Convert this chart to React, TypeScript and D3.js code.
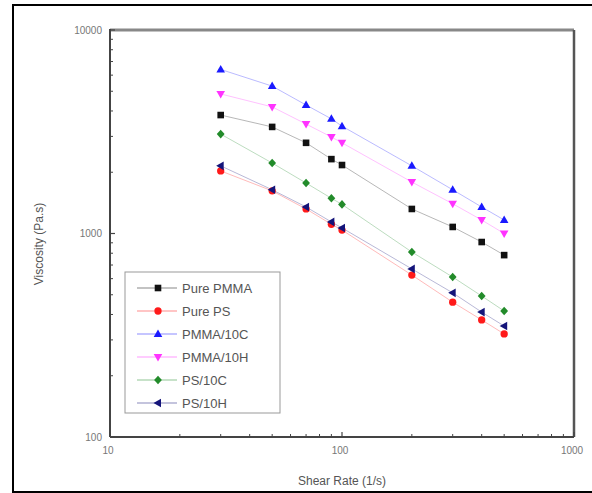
import React from "react";
import * as d3 from "d3";

const shearRates = [30, 50, 70, 90, 100, 200, 300, 400, 500];
const purePMMA = [3820, 3340, 2790, 2320, 2170, 1320, 1077, 908, 783];
const purePS = [2030, 1620, 1320, 1110, 1040, 625, 460, 376, 321];
const pmma10C = [6400, 5300, 4280, 3660, 3370, 2150, 1640, 1350, 1165];
const pmma10H = [4850, 4190, 3450, 2980, 2790, 1790, 1400, 1165, 1000];
const ps10C = [3080, 2220, 1770, 1490, 1390, 811, 611, 493, 416];
const ps10H = [2150, 1640, 1350, 1140, 1065, 670, 511, 411, 351];

const seriesNames = ["Pure PMMA", "Pure PS", "PMMA/10C", "PMMA/10H", "PS/10C", "PS/10H"];
const seriesValues = [purePMMA, purePS, pmma10C, pmma10H, ps10C, ps10H];
const seriesColors = ["#111111", "#ff1a1a", "#1a1aff", "#ff33ff", "#228b2a", "#14147a"];
const seriesShapes = ["square", "circle", "up", "down", "diamond", "left"];

const xTickLabels = [10, 100, 1000];
const yTickLabels = [100, 1000, 10000];

const W = 592, H = 493;
const L = 110, R = 574, T = 30, B = 437;

function markerPath(shape: string): string {
  switch (shape) {
    case "square": return "M-3.3,-3.3H3.3V3.3H-3.3Z";
    case "circle": return d3.symbol(d3.symbolCircle, 42)() as string;
    case "up": return "M0,-4.5L4.3,3H-4.3Z";
    case "down": return "M0,4.5L4.3,-3H-4.3Z";
    case "diamond": return "M0,-4.3L3.9,0L0,4.3L-3.9,0Z";
    case "left": return "M-4.5,0L3,-4.3V4.3Z";
  }
  return "";
}

export default function App() {
  const x = d3.scaleLog().domain([10, 1000]).range([L, R]);
  const y = d3.scaleLog().domain([100, 10000]).range([B, T]);
  const line = d3.line<[number, number]>().x(d => x(d[0])).y(d => y(d[1]));

  const minorX: number[] = [];
  const minorY: number[] = [];
  for (const dec of [10, 100]) for (let k = 2; k <= 9; k++) minorX.push(dec * k);
  for (const dec of [100, 1000]) for (let k = 2; k <= 9; k++) minorY.push(dec * k);

  const axisColor = "#444";
  const textColor = "#777";
  const legX = 125, legY = 272, legW = 155, legH = 141;

  return (
    <svg width={W} height={H} style={{ position: "absolute", left: 0, top: 0, background: "#fff" }}
      fontFamily="'Liberation Sans', Arial, sans-serif">
      <rect x={13} y={5} width={600} height={487} fill="#fff" stroke="#000" strokeWidth={2} />

      {/* lines */}
      {seriesValues.map((vals, i) => (
        <path key={"l" + i}
          d={line(shearRates.map((s, j) => [s, vals[j]] as [number, number])) as string}
          fill="none" stroke={seriesColors[i]} strokeOpacity={0.3} strokeWidth={1} />
      ))}

      {/* frame */}
      <line x1={L} y1={T} x2={R} y2={T} stroke="#888" strokeWidth={3} />
      <line x1={R} y1={T} x2={R} y2={B} stroke="#555" strokeWidth={2.5} />
      <line x1={L} y1={T - 1} x2={L} y2={B} stroke={axisColor} strokeWidth={2} />
      <line x1={L} y1={B} x2={R} y2={B} stroke={axisColor} strokeWidth={2} />

      {/* ticks */}
      {yTickLabels.map(v => (
        <g key={"yt" + v}>
          <line x1={L} x2={L + 5} y1={y(v)} y2={y(v)} stroke={axisColor} strokeWidth={1.2} />
          <text x={L - 8} y={y(v) + 3.5} textAnchor="end" fontSize={10} fill={textColor}>{v}</text>
        </g>
      ))}
      {minorY.map(v => (
        <line key={"ym" + v} x1={L} x2={L + 3} y1={y(v)} y2={y(v)} stroke={axisColor} strokeWidth={1} />
      ))}
      {xTickLabels.map(v => (
        <g key={"xt" + v}>
          <line x1={x(v)} x2={x(v)} y1={B} y2={B - 5} stroke={axisColor} strokeWidth={1.2} />
          <text x={x(v) - 2} y={B + 17} textAnchor="middle" fontSize={10} fill={textColor}>{v}</text>
        </g>
      ))}
      {minorX.map(v => (
        <line key={"xm" + v} x1={x(v)} x2={x(v)} y1={B} y2={B - 3} stroke={axisColor} strokeWidth={1} />
      ))}

      {/* axis titles */}
      <text x={(L + R) / 2} y={485} textAnchor="middle" fontSize={12} fill="#555">Shear Rate (1/s)</text>
      <text transform={`translate(43,${244}) rotate(-90)`} textAnchor="middle" fontSize={12} fill="#555">Viscosity (Pa.s)</text>

      {/* markers */}
      {seriesValues.map((vals, i) => (
        <g key={"m" + i}>
          {shearRates.map((s, j) => (
            <path key={j} d={markerPath(seriesShapes[i])}
              transform={`translate(${x(s)},${y(vals[j])})`} fill={seriesColors[i]} />
          ))}
        </g>
      ))}

      {/* legend */}
      <rect x={legX} y={legY} width={legW} height={legH} fill="#fff" stroke="#999" strokeWidth={1} />
      {seriesNames.map((n, i) => {
        const cy = legY + 16 + i * 23;
        return (
          <g key={"lg" + i}>
            <line x1={137} x2={177} y1={cy} y2={cy} stroke={seriesColors[i]} strokeOpacity={0.5} strokeWidth={1} />
            <path d={markerPath(seriesShapes[i])} transform={`translate(158,${cy})`} fill={seriesColors[i]} />
            <text x={182} y={cy + 5} fontSize={13} fill="#555">{n}</text>
          </g>
        );
      })}
    </svg>
  );
}
